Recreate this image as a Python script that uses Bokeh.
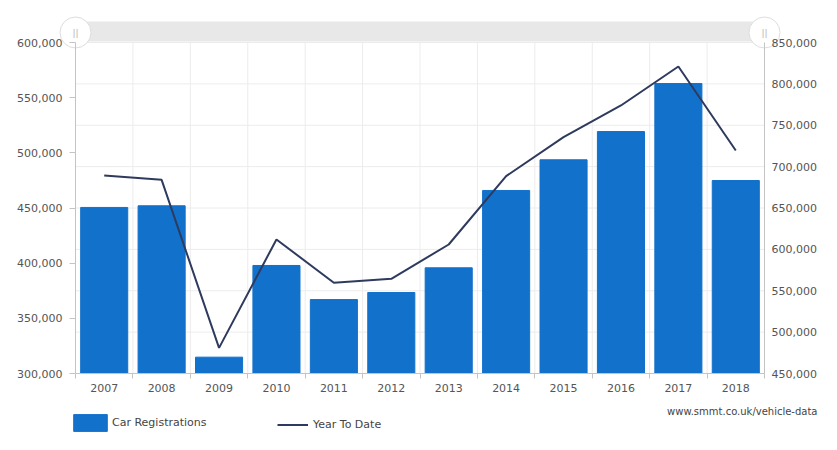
from bokeh.plotting import figure
from bokeh.models import (Range1d, LinearAxis, FixedTicker, Legend, LegendItem,
                          NumeralTickFormatter, Label)
from bokeh.core.properties import value
from bokeh.embed import file_html
from bokeh.resources import INLINE

# ---------------- data ----------------
years = ["2007", "2008", "2009", "2010", "2011", "2012",
         "2013", "2014", "2015", "2016", "2017", "2018"]
car_registrations = [450500, 452000, 314800, 397900, 367000, 373400,
                     395800, 465900, 493700, 519300, 562800, 474900]
year_to_date = [689300, 684000, 481000, 612000, 559600, 564400,
                605900, 688500, 735600, 773900, 821000, 719500]
left_ticks = [300000, 350000, 400000, 450000, 500000, 550000, 600000]
right_ticks = [450000, 500000, 550000, 600000, 650000, 700000, 750000, 800000, 850000]
source_text = "www.smmt.co.uk/vehicle-data"

# ---------------- style / layout constants ----------------
FONT = "DejaVu Sans"
BAR_COLOR = "#1271cb"
LINE_COLOR = "#2e3a5e"
AXIS_COLOR = "#c4c4c4"
GRID_COLOR = "#ececec"
LABEL_COLOR = "#555555"

W, H = 837, 450
AX_L, AX_R = 75, 764        # axis positions (px)
AX_T, AX_B = 42, 373

n = len(years)
centers = [i + 0.5 for i in range(n)]
bounds = [float(i) for i in range(n + 1)]
l0, l1 = left_ticks[0], left_ticks[-1]
r0, r1 = right_ticks[0], right_ticks[-1]

ppu = (AX_R - AX_L) / n
ax_px = AX_B - AX_T
lpp = (l1 - l0) / ax_px   # left units per px
rpp = (r1 - r0) / ax_px

# the frame covers the whole canvas; axes are pinned at fixed data locations
p = figure(width=W, height=H,
           x_range=Range1d(-AX_L / ppu, n + (W - AX_R) / ppu),
           y_range=Range1d(l0 - lpp * (H - AX_B), l1 + lpp * AX_T),
           output_backend="svg", toolbar_location=None,
           min_border_left=0, min_border_right=0,
           min_border_top=0, min_border_bottom=0)
p.title.visible = False
p.outline_line_color = None
p.extra_y_ranges = {"ytd": Range1d(r0 - rpp * (H - AX_B), r1 + rpp * AX_T)}
p.xgrid.visible = False
p.ygrid.visible = False

# left axis
ya = p.yaxis[0]
ya.fixed_location = 0
ya.ticker = FixedTicker(ticks=left_ticks)
ya.formatter = NumeralTickFormatter(format="0,0")
ya.bounds = (l0, l1)
ya.axis_line_color = AXIS_COLOR
ya.major_tick_line_color = AXIS_COLOR
ya.major_tick_out = 6
ya.major_tick_in = 0
ya.minor_tick_line_color = None
ya.major_label_standoff = 7
ya.major_label_text_font = FONT
ya.major_label_text_font_size = "11px"
ya.major_label_text_color = LABEL_COLOR

# right axis
ra = LinearAxis(y_range_name="ytd", ticker=FixedTicker(ticks=right_ticks),
                formatter=NumeralTickFormatter(format="0,0"), bounds=(r0, r1),
                fixed_location=n)
ra.axis_line_color = AXIS_COLOR
ra.major_tick_line_color = None
ra.major_tick_out = 0
ra.major_tick_in = 0
ra.minor_tick_line_color = None
ra.major_label_standoff = 7
ra.major_label_text_font = FONT
ra.major_label_text_font_size = "11px"
ra.major_label_text_color = LABEL_COLOR
p.add_layout(ra, "right")

# x axis
xa = p.xaxis[0]
xa.fixed_location = l0
xa.ticker = FixedTicker(ticks=centers, minor_ticks=bounds)
xa.major_label_overrides = {c: y for c, y in zip(centers, years)}
xa.bounds = (0, n)
xa.axis_line_color = AXIS_COLOR
xa.major_tick_line_color = None
xa.major_tick_out = 0
xa.major_tick_in = 0
xa.minor_tick_line_color = AXIS_COLOR
xa.minor_tick_out = 5
xa.minor_tick_in = 0
xa.major_label_standoff = 5
xa.major_label_text_font = FONT
xa.major_label_text_font_size = "11px"
xa.major_label_text_color = LABEL_COLOR

# grid lines (bounded to the axes)
p.segment(x0=0, x1=n, y0=right_ticks[1:], y1=right_ticks[1:], y_range_name="ytd",
          line_color=GRID_COLOR, line_width=1, level="underlay")
p.segment(x0=bounds[1:-1], x1=bounds[1:-1], y0=l0, y1=l1,
          line_color=GRID_COLOR, line_width=1, level="underlay")

# scroll band above plot
p.quad(left=0, right=n, bottom=l1 + lpp * 1, top=l1 + lpp * (AX_T - 21),
       fill_color="#e8e8e8", line_color=None)

# bars and line
bars = p.vbar(x=centers, top=car_registrations, bottom=l0, width=0.82,
              fill_color=BAR_COLOR, line_color=BAR_COLOR)
line = p.line(x=centers, y=year_to_date, y_range_name="ytd",
              line_color=LINE_COLOR, line_width=2)

# scroll handles
hy = l1 + lpp * (AX_T - 32)
p.scatter(x=[0, n], y=[hy, hy], size=31, marker="circle",
          fill_color="white", line_color="#dddddd", line_width=1)
p.text(x=[0, n], y=[hy, hy], text=["||", "||"], text_font=value(FONT),
       text_font_size="9px", text_color="#b0b0b0",
       text_align="center", text_baseline="middle")

# legends (frame = canvas, so screen locations are canvas pixels from bottom-left)
common = dict(orientation="horizontal", padding=0, margin=0,
              border_line_color=None, background_fill_alpha=0,
              label_text_font=FONT, label_text_font_size="11px",
              label_text_color="#444444")
leg1 = Legend(items=[LegendItem(label="Car Registrations", renderers=[bars])],
              location=(69, 17), glyph_width=42, glyph_height=21,
              label_standoff=1, **common)
leg2 = Legend(items=[LegendItem(label="Year To Date", renderers=[line])],
              location=(277, 17), glyph_width=31, glyph_height=17,
              label_standoff=5, **common)
p.add_layout(leg1)
p.add_layout(leg2)

p.add_layout(Label(x=817, y=H - 411, x_units="screen", y_units="screen",
                   text=source_text, text_font=FONT, text_font_size="10px",
                   text_color="#444444", text_align="right",
                   text_baseline="middle"))

open("out.html", "w").write(file_html(p, INLINE))
